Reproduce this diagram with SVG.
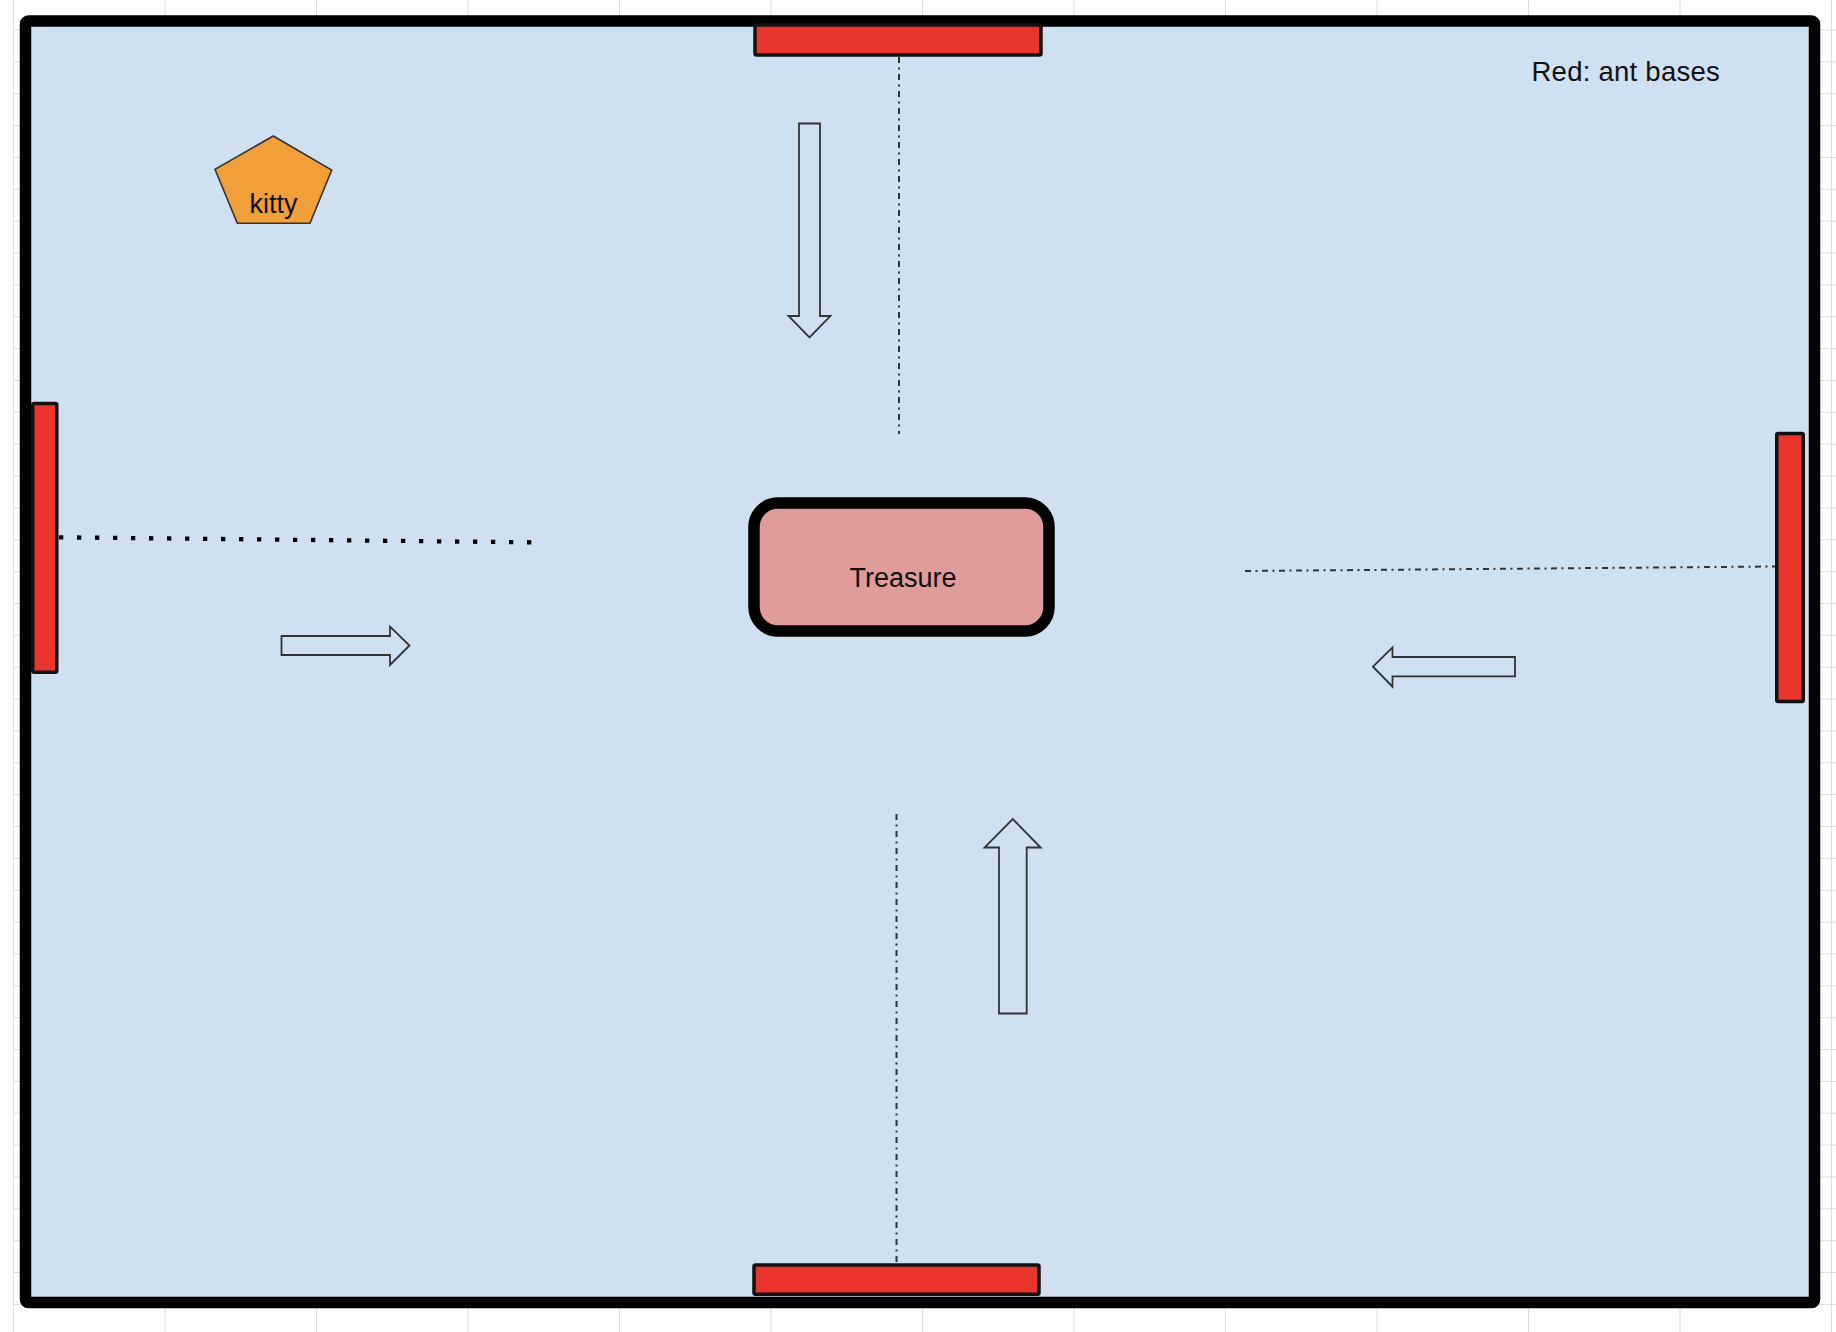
<svg xmlns="http://www.w3.org/2000/svg" width="1836" height="1332" viewBox="0 0 1836 1332">
  <defs>
    <style>
      .grid line { stroke: #dcdcdc; stroke-width: 1; }
      .base { fill: #e9352a; stroke: #111; stroke-width: 3.5; }
      .arrow { fill: none; stroke: #333; stroke-width: 1.8; stroke-linejoin: miter; }
      .label { font-family: "Liberation Sans", Arial, sans-serif; font-size: 27px; fill: #111; }
      .dashdot { fill: none; stroke: #333; stroke-width: 2; stroke-dasharray: 6 4.5 2 4.5; }
    </style>
  </defs>
  <rect x="0" y="0" width="1836" height="1332" fill="#ffffff"/>
  <g class="grid" id="grid">
    <line x1="13.5" y1="0" x2="13.5" y2="1332"/>
    <line x1="165" y1="0" x2="165" y2="1332"/>
    <line x1="316.5" y1="0" x2="316.5" y2="1332"/>
    <line x1="468" y1="0" x2="468" y2="1332"/>
    <line x1="619.5" y1="0" x2="619.5" y2="1332"/>
    <line x1="771" y1="0" x2="771" y2="1332"/>
    <line x1="922.5" y1="0" x2="922.5" y2="1332"/>
    <line x1="1074" y1="0" x2="1074" y2="1332"/>
    <line x1="1225.5" y1="0" x2="1225.5" y2="1332"/>
    <line x1="1377" y1="0" x2="1377" y2="1332"/>
    <line x1="1528.5" y1="0" x2="1528.5" y2="1332"/>
    <line x1="1680" y1="0" x2="1680" y2="1332"/>
    <line x1="1831.5" y1="0" x2="1831.5" y2="1332"/>
    <line x1="13.5" y1="30" x2="1836" y2="30"/>
    <line x1="13.5" y1="61.9" x2="1836" y2="61.9"/>
    <line x1="13.5" y1="93.7" x2="1836" y2="93.7"/>
    <line x1="13.5" y1="125.6" x2="1836" y2="125.6"/>
    <line x1="13.5" y1="157.4" x2="1836" y2="157.4"/>
    <line x1="13.5" y1="189.3" x2="1836" y2="189.3"/>
    <line x1="13.5" y1="221.2" x2="1836" y2="221.2"/>
    <line x1="13.5" y1="253" x2="1836" y2="253"/>
    <line x1="13.5" y1="284.9" x2="1836" y2="284.9"/>
    <line x1="13.5" y1="316.7" x2="1836" y2="316.7"/>
    <line x1="13.5" y1="348.6" x2="1836" y2="348.6"/>
    <line x1="13.5" y1="380.5" x2="1836" y2="380.5"/>
    <line x1="13.5" y1="412.3" x2="1836" y2="412.3"/>
    <line x1="13.5" y1="444.2" x2="1836" y2="444.2"/>
    <line x1="13.5" y1="476" x2="1836" y2="476"/>
    <line x1="13.5" y1="507.9" x2="1836" y2="507.9"/>
    <line x1="13.5" y1="539.8" x2="1836" y2="539.8"/>
    <line x1="13.5" y1="571.6" x2="1836" y2="571.6"/>
    <line x1="13.5" y1="603.5" x2="1836" y2="603.5"/>
    <line x1="13.5" y1="635.3" x2="1836" y2="635.3"/>
    <line x1="13.5" y1="667.2" x2="1836" y2="667.2"/>
    <line x1="13.5" y1="699.1" x2="1836" y2="699.1"/>
    <line x1="13.5" y1="730.9" x2="1836" y2="730.9"/>
    <line x1="13.5" y1="762.8" x2="1836" y2="762.8"/>
    <line x1="13.5" y1="794.6" x2="1836" y2="794.6"/>
    <line x1="13.5" y1="826.5" x2="1836" y2="826.5"/>
    <line x1="13.5" y1="858.4" x2="1836" y2="858.4"/>
    <line x1="13.5" y1="890.2" x2="1836" y2="890.2"/>
    <line x1="13.5" y1="922.1" x2="1836" y2="922.1"/>
    <line x1="13.5" y1="953.9" x2="1836" y2="953.9"/>
    <line x1="13.5" y1="985.8" x2="1836" y2="985.8"/>
    <line x1="13.5" y1="1017.7" x2="1836" y2="1017.7"/>
    <line x1="13.5" y1="1049.5" x2="1836" y2="1049.5"/>
    <line x1="13.5" y1="1081.4" x2="1836" y2="1081.4"/>
    <line x1="13.5" y1="1113.2" x2="1836" y2="1113.2"/>
    <line x1="13.5" y1="1145.1" x2="1836" y2="1145.1"/>
    <line x1="13.5" y1="1177" x2="1836" y2="1177"/>
    <line x1="13.5" y1="1208.8" x2="1836" y2="1208.8"/>
    <line x1="13.5" y1="1240.7" x2="1836" y2="1240.7"/>
    <line x1="13.5" y1="1272.5" x2="1836" y2="1272.5"/>
    <line x1="13.5" y1="1304.4" x2="1836" y2="1304.4"/>
  </g>
  <g id="field">
    <rect x="25.5" y="21" width="1789" height="1281.5" rx="3" fill="#cfe0f1" stroke="#000" stroke-width="11.5"/>
  </g>
  <g id="connectors">
    <line class="dashdot" x1="899" y1="57" x2="899" y2="434"/>
    <line class="dashdot" x1="896.5" y1="814" x2="896.5" y2="1263"/>
    <line class="dashdot" x1="1245" y1="571" x2="1775" y2="566.5" stroke-width="1.7"/>
    <line x1="59" y1="537.3" x2="531.3" y2="542.3" fill="none" stroke="#000" stroke-width="4.3" stroke-dasharray="4.3 13.7"/>
  </g>
  <g id="base-top"><rect class="base" x="755" y="25" width="286" height="30" rx="1.5"/></g>
  <g id="base-left"><rect class="base" x="32.75" y="403.5" width="24" height="268.75" rx="1.5"/></g>
  <g id="base-right"><rect class="base" x="1776.75" y="433.5" width="26.5" height="268" rx="1.5"/></g>
  <g id="base-bottom"><rect class="base" x="754" y="1265" width="285" height="29.25" rx="1.5"/></g>
  <g id="treasure">
    <rect x="754" y="503" width="295" height="128" rx="24" fill="#e09c9b" stroke="#000" stroke-width="11.5"/>
    <text class="label" x="903" y="586.5" text-anchor="middle">Treasure</text>
  </g>
  <g id="kitty">
    <polygon points="273.3,136 331.7,170 310,223.3 237.3,223.3 215,169.3" fill="#f19f39" stroke="#333" stroke-width="1.6"/>
    <text class="label" x="273.5" y="213.3" text-anchor="middle">kitty</text>
  </g>
  <g id="legend">
    <text class="label" x="1531.5" y="81" fill="#222" style="font-size:27.5px" letter-spacing="0.25">Red: ant bases</text>
  </g>
  <g id="arrow-right"><polygon class="arrow" points="281.5,636 390,636 390,626.7 409.5,645.5 390,665 390,655 281.5,655"/></g>
  <g id="arrow-left"><polygon class="arrow" points="1373,666.7 1392.5,647.3 1392.5,657 1515,657 1515,676.3 1392.5,676.3 1392.5,686.7"/></g>
  <g id="arrow-down"><polygon class="arrow" points="799,123.5 820,123.5 820,316 830.5,316 809.5,337.5 788.5,316 799,316"/></g>
  <g id="arrow-up"><polygon class="arrow" points="999,1013.5 1026.7,1013.5 1026.7,847.5 1040.7,847.5 1012.7,819 984.5,847.5 999,847.5"/></g>
</svg>
